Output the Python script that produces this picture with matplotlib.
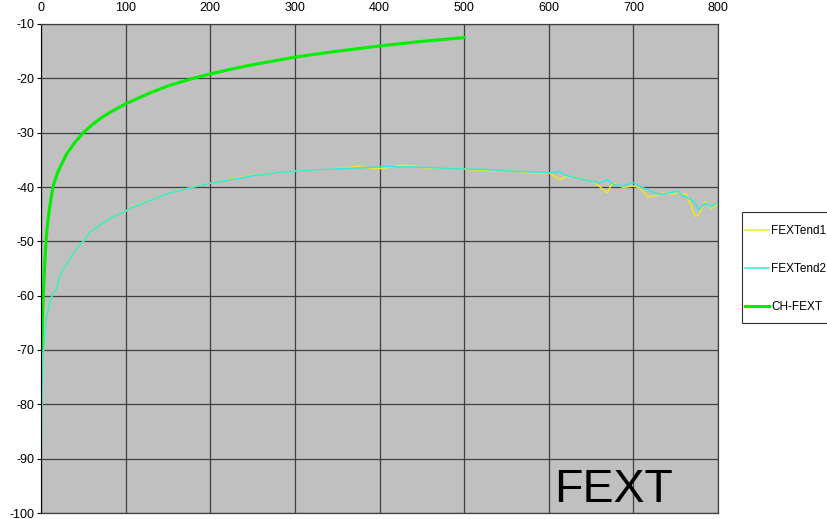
import matplotlib
matplotlib.use("Agg")
import matplotlib.pyplot as plt
from matplotlib.patches import Rectangle

plt.rcParams['font.family'] = ['Liberation Sans', 'DejaVu Sans']
plt.rcParams['axes.unicode_minus'] = False

# far-end crosstalk, two measured ends
x_end = [0.5, 1, 2, 4, 6, 10, 14, 18, 22, 26, 34, 38, 46, 52, 58, 70, 82, 100,
         105, 125, 152, 184, 200, 223, 251, 282, 300, 330, 345, 375, 390, 404,
         425, 440, 455, 470, 500, 527, 558, 575, 590, 600, 605, 613, 621, 635,
         649, 653, 660, 669, 674, 678, 688, 700, 708, 717, 727, 735, 745, 753,
         759, 763, 767, 773, 777, 785, 792, 800]
fext_end1 = [-88.7, -79.8, -72.4, -68.1, -64.5, -61.4, -59.5, -58.9, -56.5, -55.2,
             -53.4, -52.2, -50.6, -49.7, -48.2, -47.0, -45.7, -44.5, -43.8, -42.6,
             -41.1, -39.8, -39.3, -38.6, -37.8, -37.3, -37.1, -36.8, -36.7, -36.2,
             -36.6, -36.6, -36.0, -36.1, -36.6, -36.5, -36.7, -37.0, -37.0, -37.4,
             -37.5, -37.4, -37.8, -38.7, -38.1, -38.3, -38.9, -39.1, -39.9, -41.1,
             -39.6, -39.3, -40.1, -39.8, -40.2, -41.8, -41.6, -41.1, -41.3, -41.0,
             -41.4, -41.3, -43.0, -45.4, -45.1, -42.7, -44.0, -43.1]
fext_end2 = [-88.7, -79.8, -72.4, -68.1, -64.5, -61.4, -59.5, -58.9, -56.5, -55.2,
             -53.4, -52.2, -50.6, -49.7, -48.2, -47.0, -45.7, -44.5, -43.9, -42.7,
             -41.1, -39.9, -39.3, -38.7, -37.9, -37.3, -37.1, -36.8, -36.7, -36.5,
             -36.4, -36.2, -36.3, -36.3, -36.4, -36.5, -36.7, -36.8, -37.1, -37.2,
             -37.3, -37.4, -37.3, -37.2, -37.9, -38.4, -38.9, -39.0, -39.3, -38.6,
             -39.2, -39.6, -39.8, -39.2, -39.9, -40.5, -41.2, -41.3, -41.0, -40.8,
             -41.7, -41.9, -42.2, -43.0, -44.2, -43.0, -43.6, -42.9]

# channel FEXT limit
x_ch = [1, 2, 3, 4, 5, 6, 7, 8, 10, 14, 20, 30, 40, 50, 60, 70, 80, 100, 120,
        130, 150, 160, 180, 200, 225, 250, 275, 300, 350, 400, 450, 500]
ch_fext = [-69.5, -63.0, -59.0, -55.5, -52.5, -50.0, -48.0, -46.5, -44.0, -40.0,
           -37.2, -34.0, -31.8, -30.0, -28.6, -27.4, -26.4, -24.7, -23.3, -22.6,
           -21.4, -20.9, -20.0, -19.2, -18.3, -17.5, -16.8, -16.1, -15.0, -14.05,
           -13.2, -12.5]

x_ticks = list(range(0, 801, 100))
y_ticks = list(range(-100, -9, 10))

fig = plt.figure(figsize=(8.27, 5.19), dpi=100)
ax = fig.add_axes([41 / 827, 6 / 519, 677 / 827, 489 / 519])
ax.set_facecolor('#c0c0c0')

ax.plot(x_end, fext_end1, color='#f0e822', lw=1.1, label='FEXTend1')
ax.plot(x_end, fext_end2, color='#30e8e0', lw=1.1, label='FEXTend2')
ax.plot(x_ch, ch_fext, color='#00ee00', lw=2.2, label='CH-FEXT')

ax.set_xlim(0, 800)
ax.set_ylim(-100, -10)
ax.set_xticks(x_ticks)
ax.set_yticks(y_ticks)
ax.xaxis.tick_top()
ax.tick_params(axis='x', length=0, pad=7.5, labelsize=9)
ax.tick_params(axis='y', length=3, width=0.8, pad=2, labelsize=9)
ax.grid(True, color='#404040', lw=0.9)
ax.set_axisbelow(True)
for side in ['top', 'right', 'bottom']:
    ax.spines[side].set_color('#404040')
    ax.spines[side].set_linewidth(0.9)
ax.spines['left'].set_color('black')

ax.text(0.758, 0.023, 'FEXT', transform=ax.transAxes, fontsize=33.5,
        ha='left', va='baseline')

# legend box drawn on the figure, entries inside it
fig.patches.append(Rectangle((742 / 827, 1 - 323 / 519), 0.2, 111 / 519,
                             transform=fig.transFigure, facecolor='white',
                             edgecolor='#303030', lw=0.8, zorder=1))
handles, labels = ax.get_legend_handles_labels()
leg = fig.legend(handles, labels, loc='upper left',
                 bbox_to_anchor=(745 / 827, 1 - 225 / 519), frameon=False,
                 fontsize=8.5, handlelength=2.0, handletextpad=0.2,
                 labelspacing=2.2, borderpad=0, borderaxespad=0)
leg.set_zorder(2)

fig.savefig('out.png', dpi=100)
